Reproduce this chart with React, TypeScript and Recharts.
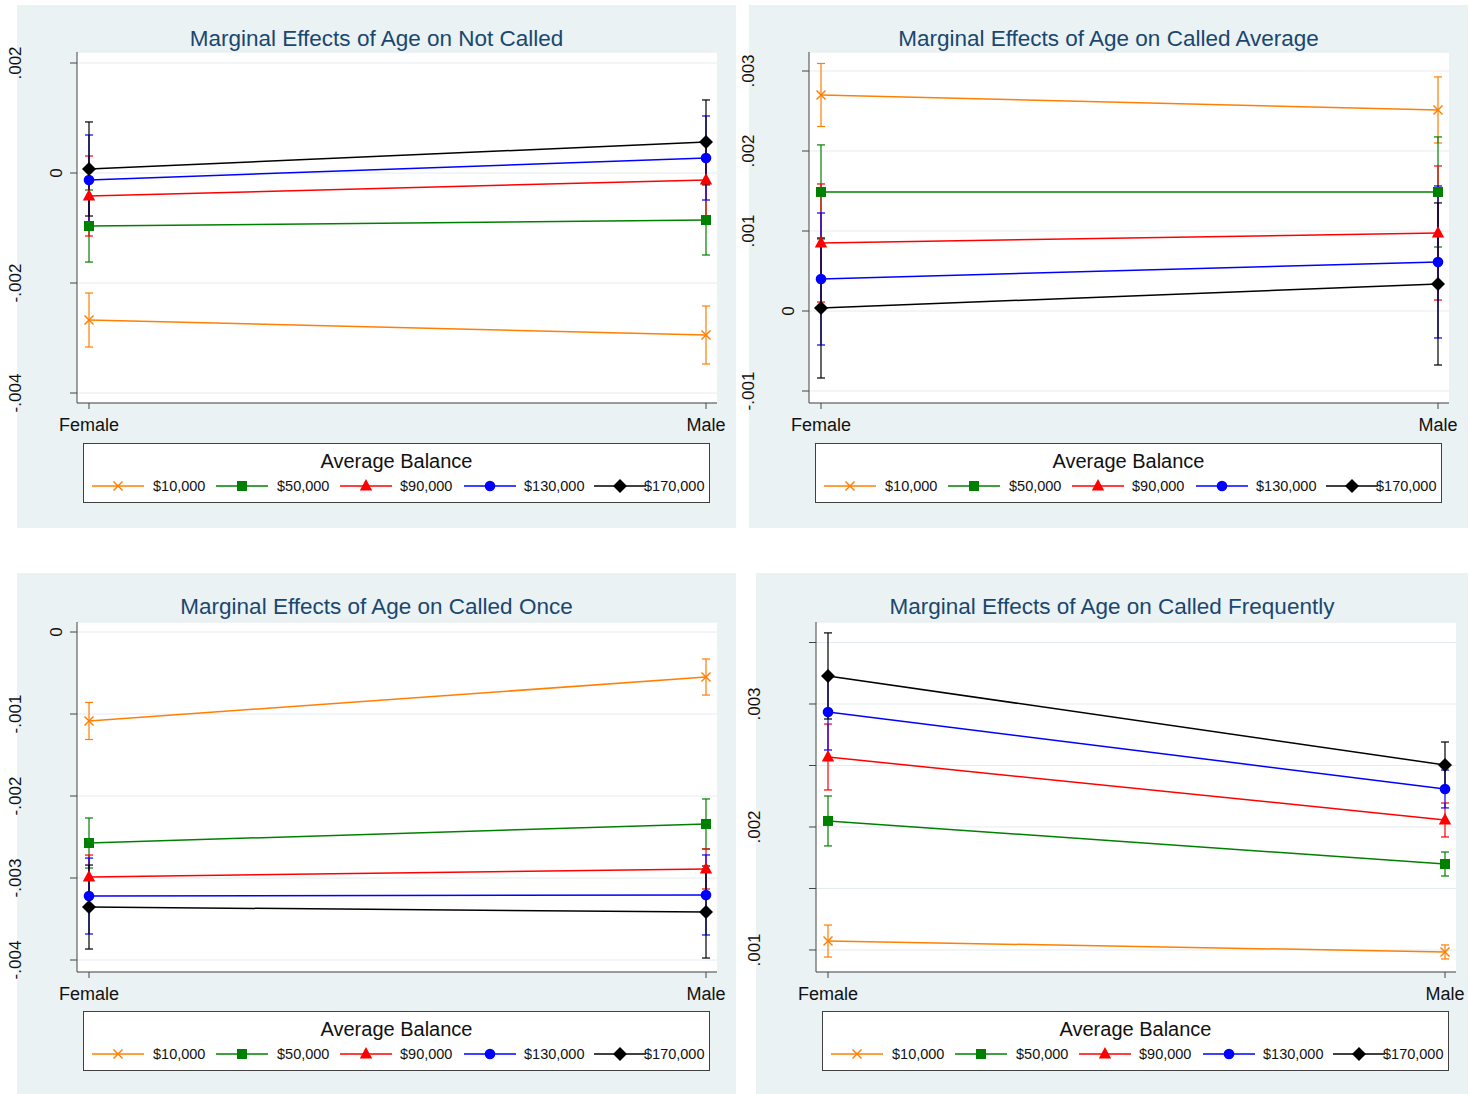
import React from 'react';
import { LineChart, Line, XAxis, YAxis, CartesianGrid, ErrorBar } from 'recharts';

const categories = ['Female', 'Male'];
const balanceLabels = ['$10,000', '$50,000', '$90,000', '$130,000', '$170,000'];
const seriesColors = ['#FF7F00', '#008000', '#FF0000', '#0000FF', '#000000'];
const seriesMarkers = ['x', 'square', 'triangle', 'circle', 'diamond'];

// Not Called
const notCalledFemale = [-0.002673, -0.000964, -0.000418, -0.000127, 0.000073];
const notCalledMale = [-0.002945, -0.000855, -0.000127, 0.000273, 0.000564];
const notCalledFemaleCI = [0.000491, 0.000655, 0.000727, 0.000818, 0.000855];
const notCalledMaleCI = [0.000527, 0.000636, 0.0007, 0.000764, 0.000764];
const notCalledTicks = [0.002, 0, -0.002, -0.004];
const notCalledTickLabels = ['.002', '0', '-.002', '-.004'];

// Called Average
const calledAvgFemale = [0.0027, 0.001488, 0.00085, 0.0004, 0.0000375];
const calledAvgMale = [0.002513, 0.001488, 0.000975, 0.000613, 0.000338];
const calledAvgFemaleCI = [0.000394, 0.000588, 0.000738, 0.000825, 0.000875];
const calledAvgMaleCI = [0.000413, 0.000688, 0.000838, 0.00095, 0.001013];
const calledAvgTicks = [0.003, 0.002, 0.001, 0, -0.001];
const calledAvgTickLabels = ['.003', '.002', '.001', '0', '-.001'];

// Called Once
const calledOnceFemale = [-0.001085, -0.002573, -0.002988, -0.00322, -0.003354];
const calledOnceMale = [-0.000549, -0.002341, -0.00289, -0.003207, -0.003415];
const calledOnceFemaleCI = [0.000226, 0.000305, 0.000268, 0.000463, 0.000512];
const calledOnceMaleCI = [0.00022, 0.000305, 0.000244, 0.000488, 0.000561];
const calledOnceTicks = [0, -0.001, -0.002, -0.003, -0.004];
const calledOnceTickLabels = ['0', '-.001', '-.002', '-.003', '-.004'];

// Called Frequently
const calledFreqFemale = [0.001073, 0.002049, 0.002569, 0.002935, 0.003228];
const calledFreqMale = [0.000984, 0.001699, 0.002057, 0.002309, 0.002504];
const calledFreqFemaleCI = [0.00013, 0.000203, 0.000268, 0.000309, 0.00035];
const calledFreqMaleCI = [0.000057, 0.0000976, 0.000138, 0.000154, 0.000187];
const calledFreqTicks = [0.0035, 0.003, 0.0025, 0.002, 0.0015, 0.001];
const calledFreqTickLabels = ['', '.003', '', '.002', '', '.001'];

const FONT = "'Liberation Sans', Arial, Helvetica, sans-serif";
const PANEL_BG = '#EAF2F3';
const TITLE_COLOR = '#1A476F';
const AXIS_COLOR = '#444';

function Marker({ cx, cy, kind, color }: any) {
  if (cx == null || cy == null) return null;
  switch (kind) {
    case 'x':
      return (
        <g stroke={color} strokeWidth={1.4}>
          <line x1={cx - 4.5} y1={cy - 4.5} x2={cx + 4.5} y2={cy + 4.5} />
          <line x1={cx - 4.5} y1={cy + 4.5} x2={cx + 4.5} y2={cy - 4.5} />
        </g>
      );
    case 'square':
      return <rect x={cx - 5} y={cy - 5} width={10} height={10} fill={color} />;
    case 'triangle':
      return <polygon points={`${cx},${cy - 7} ${cx + 6.2},${cy + 4.5} ${cx - 6.2},${cy + 4.5}`} fill={color} />;
    case 'circle':
      return <circle cx={cx} cy={cy} r={5.3} fill={color} />;
    default:
      return <polygon points={`${cx},${cy - 7} ${cx + 7},${cy} ${cx},${cy + 7} ${cx - 7},${cy}`} fill={color} />;
  }
}

function LegendBox() {
  const keyX = [8, 132, 256, 380, 510];
  const labelX = [69, 193, 316, 440, 560];
  return (
    <div
      style={{
        position: 'absolute',
        left: 66,
        top: 438,
        width: 627,
        height: 60,
        boxSizing: 'border-box',
        border: '1px solid #404040',
        background: '#fff',
        fontFamily: FONT,
      }}
    >
      <div style={{ position: 'absolute', left: 0, right: 0, top: 6, textAlign: 'center', fontSize: 20, color: '#111' }}>
        Average Balance
      </div>
      <svg width={625} height={58} style={{ position: 'absolute', left: 0, top: 0 }}>
        {balanceLabels.map((lab, k) => (
          <g key={lab}>
            <line x1={keyX[k]} x2={keyX[k] + 52} y1={42} y2={42} stroke={seriesColors[k]} strokeWidth={1.5} />
            <Marker cx={keyX[k] + 26} cy={42} kind={seriesMarkers[k]} color={seriesColors[k]} />
            <text x={labelX[k]} y={47} fontSize={14.5} fill="#111" fontFamily={FONT}>
              {lab}
            </text>
          </g>
        ))}
      </svg>
    </div>
  );
}

function Panel({ title, panel, plot, female, male, femaleCI, maleCI, ticks, tickLabels }: any) {
  const chartLeft = panel.x - 9;
  const width = panel.w + 9;
  const yAxisWidth = plot.left - chartLeft;
  const xAxisHeight = 30;
  const rows = categories.map((c, i) => {
    const row: any = { sex: c };
    const vals = i === 0 ? female : male;
    const errs = i === 0 ? femaleCI : maleCI;
    vals.forEach((v: number, k: number) => {
      row['s' + k] = v;
      row['e' + k] = errs[k];
    });
    return row;
  });

  // rotated labels; the "0" sits by the axis, the others out at the far left
  const renderYTick = (p: any) => {
    const idx = ticks.findIndex((t: number) => Math.abs(t - p.payload.value) < 1e-9);
    const label = idx >= 0 ? tickLabels[idx] : '';
    if (!label) return <g />;
    const x = label === '0' ? yAxisWidth - 15 : 13.5;
    return (
      <text
        x={x}
        y={p.y}
        transform={`rotate(-90 ${x} ${p.y})`}
        textAnchor="middle"
        fontSize={17}
        fill="#111"
        fontFamily={FONT}
      >
        {label}
      </text>
    );
  };

  return (
    <>
      <div
        style={{
          position: 'absolute',
          left: panel.x,
          top: panel.y,
          width: panel.w,
          height: panel.h,
          background: PANEL_BG,
        }}
      >
        <div
          style={{
            position: 'absolute',
            left: 0,
            right: 0,
            top: 21,
            textAlign: 'center',
            fontFamily: FONT,
            fontSize: 22.5,
            color: TITLE_COLOR,
          }}
        >
          {title}
        </div>
        <LegendBox />
      </div>
      <div
        style={{
          position: 'absolute',
          left: chartLeft,
          top: panel.y,
          width,
          height: panel.h,
        }}
      >
        <LineChart
          width={width}
          height={panel.h}
          data={rows}
          margin={{
            top: plot.top - panel.y,
            right: panel.x + panel.w - plot.right,
            left: 0,
            bottom: panel.y + panel.h - plot.bottom - xAxisHeight,
          }}
        >
          <CartesianGrid vertical={false} stroke="#E4ECEF" fill="#ffffff" />
          <XAxis
            dataKey="sex"
            height={xAxisHeight}
            padding={{ left: 12, right: 11 }}
            axisLine={{ stroke: AXIS_COLOR }}
            tickLine={{ stroke: AXIS_COLOR }}
            tickSize={6}
            tickMargin={9}
            tick={{ fontSize: 18, fill: '#111', fontFamily: FONT }}
            interval={0}
          />
          <YAxis
            type="number"
            width={yAxisWidth}
            domain={panel.domain}
            allowDataOverflow
            ticks={ticks}
            interval={0}
            axisLine={{ stroke: AXIS_COLOR }}
            tickLine={{ stroke: AXIS_COLOR }}
            tickSize={7}
            tick={renderYTick}
          />
          {balanceLabels.map((lab, k) => (
            <Line
              key={lab}
              dataKey={'s' + k}
              name={lab}
              stroke={seriesColors[k]}
              strokeWidth={1.5}
              isAnimationActive={false}
              activeDot={false}
              dot={(p: any) => (
                <Marker key={`${lab}-${p.index}`} cx={p.cx} cy={p.cy} kind={seriesMarkers[k]} color={seriesColors[k]} />
              )}
            >
              <ErrorBar
                dataKey={'e' + k}
                direction="y"
                width={4}
                stroke={seriesColors[k]}
                strokeWidth={1.2}
                isAnimationActive={false}
              />
            </Line>
          ))}
        </LineChart>
      </div>
    </>
  );
}

export default function App() {
  return (
    <div style={{ position: 'relative', width: 1470, height: 1094, background: '#fff', overflow: 'hidden' }}>
      <style>{`body{margin:0;}`}</style>
      <Panel
        title="Marginal Effects of Age on Not Called"
        panel={{ x: 17, y: 5, w: 719, h: 523, domain: [-0.0041818, 0.0022] }}
        plot={{ left: 77, top: 52, right: 717, bottom: 403 }}
        female={notCalledFemale}
        male={notCalledMale}
        femaleCI={notCalledFemaleCI}
        maleCI={notCalledMaleCI}
        ticks={notCalledTicks}
        tickLabels={notCalledTickLabels}
      />
      <Panel
        title="Marginal Effects of Age on Called Average"
        panel={{ x: 749, y: 5, w: 719, h: 523, domain: [-0.00115, 0.0032375] }}
        plot={{ left: 809, top: 52, right: 1449, bottom: 403 }}
        female={calledAvgFemale}
        male={calledAvgMale}
        femaleCI={calledAvgFemaleCI}
        maleCI={calledAvgMaleCI}
        ticks={calledAvgTicks}
        tickLabels={calledAvgTickLabels}
      />
      <Panel
        title="Marginal Effects of Age on Called Once"
        panel={{ x: 17, y: 573, w: 719, h: 521, domain: [-0.0041463, 0.000122] }}
        plot={{ left: 77, top: 622, right: 717, bottom: 972 }}
        female={calledOnceFemale}
        male={calledOnceMale}
        femaleCI={calledOnceFemaleCI}
        maleCI={calledOnceMaleCI}
        ticks={calledOnceTicks}
        tickLabels={calledOnceTickLabels}
      />
      <Panel
        title="Marginal Effects of Age on Called Frequently"
        panel={{ x: 756, y: 573, w: 712, h: 521, domain: [0.000821, 0.0036667] }}
        plot={{ left: 816, top: 622, right: 1456, bottom: 972 }}
        female={calledFreqFemale}
        male={calledFreqMale}
        femaleCI={calledFreqFemaleCI}
        maleCI={calledFreqMaleCI}
        ticks={calledFreqTicks}
        tickLabels={calledFreqTickLabels}
      />
    </div>
  );
}
